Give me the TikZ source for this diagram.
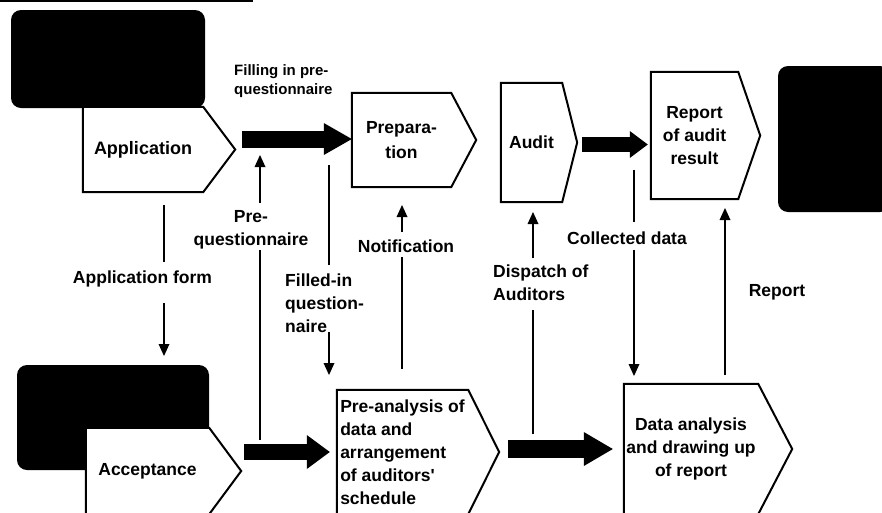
\documentclass[tikz,border=0pt]{standalone}
\usepackage{fontspec}
\setmainfont{Liberation Sans}[Ligatures=TeXOff]
\usetikzlibrary{arrows.meta,calc}
\pgfdeclarelayer{back}
\pgfdeclarelayer{mid}
\pgfsetlayers{back,mid,main}
\newcommand\pentagonbox[2]{\draw[pentline] (#1.north west) -- (#1.north east) -- ($(#1.east)+(#2,0)$) -- (#1.south east) -- (#1.south west) -- cycle;}
\tikzset{
  lbl/.style={font=\fontsize{17.5}{23}\selectfont\bfseries, inner sep=0pt},
  smalllbl/.style={font=\fontsize{15}{19}\selectfont\bfseries, inner sep=0pt, align=left},
  boxtext/.style={font=\fontsize{17.5}{23}\selectfont\bfseries, inner sep=0pt, align=center},
  pentline/.style={draw=black, line width=2pt, fill=white, line join=miter},
  photo/.style={fill=black, rounded corners=10pt, inner sep=0pt},
  thinline/.style={line width=1.8pt},
  thinarrow/.style={line width=1.8pt, -{Triangle[width=11pt,length=12pt,line width=0pt]}},
  bigarrow/.style n args={3}{line width=#1, -{Triangle[width=#2,length=#3,line width=0pt]}}
}
\begin{document}
\begin{tikzpicture}[x=1pt,y=-1pt]
\useasboundingbox (0,0) rectangle (882,512);
\clip (0,0) rectangle (882,512);
\begin{pgfonlayer}{back}
\fill[white] (0,0) rectangle (882,512);
\draw[line width=2pt] (0,1) -- (253,1);
\node[photo, minimum width=194pt, minimum height=98pt] (img1) at (108,59) {};
\node[photo, minimum width=112pt, minimum height=146pt] (img2) at (834,139) {};
\node[photo, minimum width=192pt, minimum height=105pt] (img3) at (113,417.5) {};
\end{pgfonlayer}

% process boxes
\node[boxtext, font=\fontsize{18}{23}\selectfont\bfseries, minimum width=120pt, minimum height=85pt] (app) at (143,149.5) {Application};
\node[boxtext, font=\fontsize{17.5}{25}\selectfont\bfseries, minimum width=99pt, minimum height=94pt] (prep) at (401.5,140) {Prepara-\\tion};
\node[boxtext, minimum width=61pt, minimum height=119pt] (aud) at (531.5,142.5) {Audit};
\node[boxtext, minimum width=87pt, minimum height=127pt] (rep) at (694.5,135.5) {Report\\of audit\\result};
\node[boxtext, minimum width=123pt, minimum height=86pt] (acc) at (147.5,471) {Acceptance};
\node[boxtext, align=left, minimum width=131pt, minimum height=124pt] (pre) at (402.5,452) {Pre-analysis of\\data and\\arrangement\\of auditors'\\schedule};
\node[boxtext, minimum width=134pt, minimum height=130pt] (dat) at (691,449) {Data analysis\\and drawing up\\of report};

\begin{pgfonlayer}{mid}
\pentagonbox{app}{32}
\pentagonbox{prep}{25}
\pentagonbox{aud}{15}
\pentagonbox{rep}{22}
\pentagonbox{acc}{32}
\pentagonbox{pre}{31}
\pentagonbox{dat}{34}
\end{pgfonlayer}

% thick flow arrows
\coordinate (a1s) at (242,139);
\coordinate (a2s) at (582,144.5);
\coordinate (a3s) at (244,452);
\coordinate (a4s) at (508,449);
\draw[bigarrow={17pt}{32pt}{28pt}] (a1s) -- (a1s -| prep.west);
\draw[bigarrow={15pt}{27pt}{18pt}, shorten >=3pt] (a2s) -- (a2s -| rep.west);
\draw[bigarrow={16pt}{34pt}{23pt}, shorten >=7pt] (a3s) -- (a3s -| pre.west);
\draw[bigarrow={18pt}{34pt}{29pt}, shorten >=11pt] (a4s) -- (a4s -| dat.west);

% labels
\node[smalllbl, anchor=west] (lfill) at (234,81.5) {Filling in pre-\\questionnaire};
\node[lbl] (laf) at (142.5,279) {Application form};
\node[lbl, align=center] (lpq) at (251,230) {Pre-\\questionnaire};
\node[lbl, align=left, anchor=west] (lfq) at (285,303) {Filled-in\\question-\\naire};
\node[lbl] (lnot) at (406,246) {Notification};
\node[lbl, align=left, anchor=west] (ldis) at (493,283) {Dispatch of\\Auditors};
\node[lbl] (lcol) at (627,238) {Collected data};
\node[lbl] (lrep) at (777,292) {Report};

% thin connectors
\coordinate (af1) at (164,205); \coordinate (af2) at (164,262);
\coordinate (af3) at (164,303); \coordinate (af4) at (164,356);
\draw[thinline] (af1) -- (af2);
\draw[thinarrow] (af3) -- (af4);

\coordinate (pq1) at (260,440); \coordinate (pq2) at (260,250);
\coordinate (pq3) at (260,203); \coordinate (pq4) at (260,155);
\draw[thinline] (pq1) -- (pq2);
\draw[thinarrow] (pq3) -- (pq4);

\coordinate (fq1) at (329,165); \coordinate (fq2) at (329,265);
\coordinate (fq3) at (329,332); \coordinate (fq4) at (329,375);
\draw[thinline] (fq1) -- (fq2);
\draw[thinarrow] (fq3) -- (fq4);

\coordinate (no1) at (402,369); \coordinate (no2) at (402,257);
\coordinate (no3) at (402,232); \coordinate (no4) at (402,205);
\draw[thinline] (no1) -- (no2);
\draw[thinarrow] (no3) -- (no4);

\coordinate (di1) at (533,434); \coordinate (di2) at (533,310);
\coordinate (di3) at (533,258); \coordinate (di4) at (533,212);
\draw[thinline] (di1) -- (di2);
\draw[thinarrow] (di3) -- (di4);

\coordinate (cd1) at (634,170); \coordinate (cd2) at (634,222);
\coordinate (cd3) at (634,250); \coordinate (cd4) at (634,376);
\draw[thinline] (cd1) -- (cd2);
\draw[thinarrow] (cd3) -- (cd4);

\coordinate (rp1) at (725,375); \coordinate (rp2) at (725,208);
\draw[thinarrow] (rp1) -- (rp2);
\end{tikzpicture}
\end{document}
